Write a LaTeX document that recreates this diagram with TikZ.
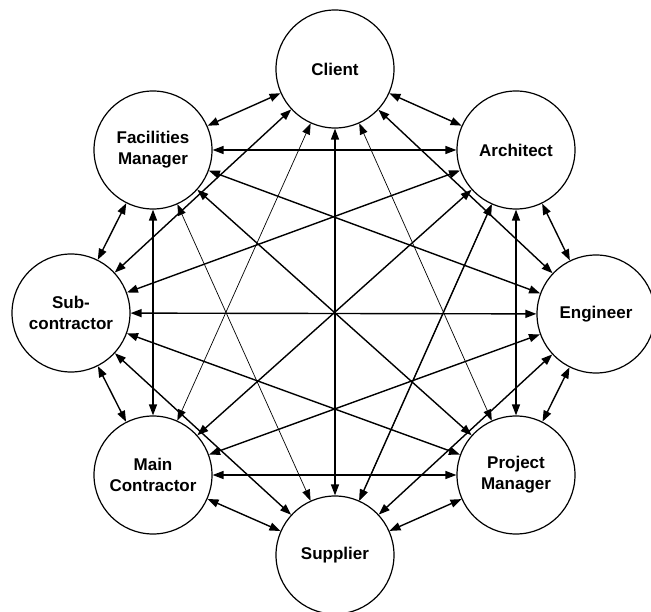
\documentclass[tikz,border=0pt]{standalone}
\usepackage{fontspec}
\setmainfont{Liberation Sans}
\usetikzlibrary{arrows.meta}
\begin{document}
\begin{tikzpicture}[x=1pt,y=-1pt,
  party/.style={circle,draw,line width=1.2pt,minimum size=118pt,inner sep=0pt,
    fill=white,align=center,font=\fontsize{17}{21}\selectfont\bfseries},
  link/.style={line width=1.4pt,{Triangle[length=11pt,width=8pt]}-{Triangle[length=11pt,width=8pt]}},
  thinlink/.style={link,line width=0.7pt}]
\useasboundingbox (0,0) rectangle (651,612);
% the eight parties
\node[party] (C) at (335,69)  {Client};
\node[party] (A) at (516,150) {Architect};
\node[party] (E) at (596,314) {Engineer};
\node[party] (P) at (516,475) {Project\\Manager};
\node[party] (S) at (335,555) {Supplier};
\node[party] (M) at (153,475) {Main\\Contractor};
\node[party] (B) at (71,313)  {Sub-\\contractor};
\node[party] (F) at (153,150) {Facilities\\Manager};
% every pair is linked both ways
\foreach \u/\v in {C/A,C/E,C/S,C/B,C/F,
                   A/E,A/P,A/S,A/M,A/B,A/F,
                   E/P,E/S,E/M,E/B,E/F,
                   P/S,P/M,P/B,P/F,
                   S/M,S/B,
                   M/B,M/F,
                   B/F}
  \draw[link] (\u) -- (\v);
\foreach \u/\v in {C/M,C/P,F/S,A/S}
  \draw[thinlink] (\u) -- (\v);
\end{tikzpicture}
\end{document}
